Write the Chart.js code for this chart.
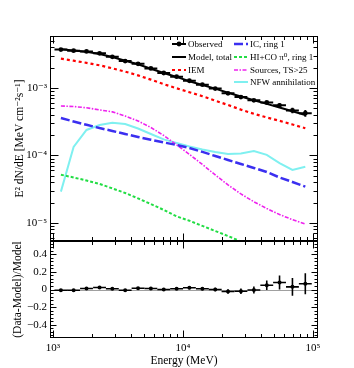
<!DOCTYPE html>
<html>
<head>
<meta charset="utf-8">
<script src="https://cdn.jsdelivr.net/npm/chart.js@4.4.0/dist/chart.umd.min.js"></script>
<style>
  html, body { margin:0; padding:0; background:#fff; }
  #wrap { position:relative; width:354px; height:368px; background:#fff; overflow:hidden; }
  #wrap canvas { position:absolute; left:0; }
  #top { top:0; }
  #bottom { top:236px; }
</style>
</head>
<body>
<div id="wrap">
  <canvas id="top" width="354" height="246"></canvas>
  <canvas id="bottom" width="354" height="132"></canvas>
</div>
<script>
/* ── DATA ── */
// bin centres (MeV), half width of a bin in decades
const ENERGY = [1150, 1440, 1810, 2280, 2860, 3590, 4510, 5660, 7110, 8930,
                11200, 14100, 17700, 22200, 27900, 35100, 44100, 55300, 69500, 87300];
const BIN_HALF_DEX = 0.0495;

const OBSERVED    = [3.71e-3, 3.57e-3, 3.48e-3, 3.27e-3, 2.90e-3, 2.51e-3, 2.28e-3, 1.95e-3, 1.67e-3, 1.47e-3,
                     1.28e-3, 1.12e-3, 9.8e-4, 8.33e-4, 7.33e-4, 6.56e-4, 6.10e-4, 5.54e-4, 4.66e-4, 4.24e-4];
const MODEL_TOTAL = [3.74e-3, 3.60e-3, 3.44e-3, 3.20e-3, 2.88e-3, 2.53e-3, 2.25e-3, 1.93e-3, 1.67e-3, 1.46e-3,
                     1.26e-3, 1.11e-3, 9.8e-4, 8.52e-4, 7.48e-4, 6.59e-4, 5.82e-4, 5.13e-4, 4.52e-4, 3.98e-4];
const IEM         = [2.72e-3, 2.54e-3, 2.36e-3, 2.17e-3, 1.96e-3, 1.75e-3, 1.54e-3, 1.33e-3, 1.14e-3, 9.9e-4,
                     8.67e-4, 7.56e-4, 6.5e-4, 5.6e-4, 4.78e-4, 4.15e-4, 3.66e-4, 3.27e-4, 2.88e-4, 2.53e-4];
const IC_RING1    = [3.59e-4, 3.19e-4, 2.85e-4, 2.55e-4, 2.31e-4, 2.08e-4, 1.88e-4, 1.71e-4, 1.56e-4, 1.43e-4,
                     1.29e-4, 1.13e-4, 9.83e-5, 8.58e-5, 7.48e-5, 6.53e-5, 5.70e-5, 4.72e-5, 4.05e-5, 3.45e-5];
const HICO_RING1  = [5.18e-5, 4.72e-5, 4.26e-5, 3.79e-5, 3.25e-5, 2.78e-5, 2.31e-5, 1.91e-5, 1.56e-5, 1.25e-5,
                     1.08e-5, 9.03e-6, 7.6e-6, 6.41e-6, 5.3e-6, 4.5e-6, null, null, null, null];
const SOURCES     = [5.41e-4, 5.32e-4, 5.09e-4, 4.74e-4, 4.43e-4, 3.85e-4, 3.25e-4, 2.60e-4, 1.98e-4, 1.44e-4,
                     1.04e-4, 7.36e-5, 5.15e-5, 3.66e-5, 2.69e-5, 2.06e-5, 1.64e-5, 1.33e-5, 1.12e-5, 9.6e-6];
const NFW         = [2.91e-5, 1.34e-4, 2.39e-4, 2.83e-4, 3.06e-4, 2.93e-4, 2.51e-4, 2.08e-4, 1.73e-4, 1.53e-4,
                     1.36e-4, 1.23e-4, 1.13e-4, 1.05e-4, 1.07e-4, 1.16e-4, 1.02e-4, 7.7e-5, 6.1e-5, 6.8e-5];

const RESIDUAL     = [-0.008, -0.008, 0.011, 0.023, 0.008, -0.008, 0.015, 0.011, 0.0, 0.008,
                      0.019, 0.008, 0.0, -0.022, -0.020, -0.005, 0.048, 0.079, 0.030, 0.065];
const RESIDUAL_ERR = [0.008, 0.008, 0.008, 0.009, 0.009, 0.010, 0.010, 0.011, 0.012, 0.013,
                      0.015, 0.017, 0.020, 0.025, 0.030, 0.040, 0.055, 0.080, 0.100, 0.120];

// axis ranges
const X_MIN = 948, X_MAX = 109300;
const Y_MIN = 5.4e-6, Y_MAX = 5.9e-3;
const R_MIN = -0.55, R_MAX = 0.55, R_MINOR = 0.04, R_MAJOR = 0.2;

const SERIF = '"Liberation Serif", "DejaVu Serif", serif';

/* ── HELPERS ── */
const pts = arr => ENERGY.map((e, i) => ({ x: e, y: arr[i] }));

const SUP = { '-':'\u207B', '0':'\u2070', '1':'\u00B9', '2':'\u00B2', '3':'\u00B3', '4':'\u2074',
              '5':'\u2075', '6':'\u2076', '7':'\u2077', '8':'\u2078', '9':'\u2079' };
function powLabel(v) {
  const e = Math.log10(v);
  if (Math.abs(e - Math.round(e)) > 1e-6) return '';
  return '10' + String(Math.round(e)).split('').map(c => SUP[c]).join('');
}

function logTicks(min, max) {
  const out = [];
  for (let e = Math.floor(Math.log10(min)); e <= Math.ceil(Math.log10(max)); e++) {
    for (let m = 1; m <= 9; m++) {
      const v = m * Math.pow(10, e);
      if (v >= min && v <= max) out.push({ v, major: m === 1 });
    }
  }
  return out;
}
function linTicks(min, max, step, majorStep) {
  const out = [];
  for (let k = Math.ceil(min / step - 1e-9); k * step <= max + 1e-9; k++) {
    const v = k * step;
    const r = v / majorStep;
    out.push({ v, major: Math.abs(r - Math.round(r)) < 1e-6 });
  }
  return out;
}

// fixed axis box, no extra room for half labels
const fixBox = (w, h) => s => {
  if (w != null) s.width = w;
  if (h != null) s.height = h;
  s.paddingTop = s.paddingBottom = s.paddingLeft = s.paddingRight = 0;
};

/* ── PLUGINS ── */
// ROOT style frame with inward ticks on all four sides
const framePlugin = {
  id: 'frame',
  afterDraw(chart, args, o) {
    const { ctx, chartArea: a, scales } = chart;
    const L = Math.round(a.left) + 0.5, R = Math.round(a.right) - 0.5;
    const T = Math.round(a.top) + 0.5, B = Math.round(a.bottom) - 0.5;
    ctx.save();
    ctx.strokeStyle = '#000';
    ctx.lineWidth = 1;
    ctx.beginPath();
    logTicks(scales.x.min, scales.x.max).forEach(t => {
      const px = Math.round(scales.x.getPixelForValue(t.v)) + 0.5;
      const len = t.major ? o.xMajor : o.xMinor;
      ctx.moveTo(px, B); ctx.lineTo(px, B - len);
      ctx.moveTo(px, T); ctx.lineTo(px, T + len);
    });
    const ys = scales.y;
    const yt = ys.type === 'logarithmic' ? logTicks(ys.min, ys.max) : linTicks(ys.min, ys.max, R_MINOR, R_MAJOR);
    yt.forEach(t => {
      const py = Math.round(ys.getPixelForValue(t.v)) + 0.5;
      const len = t.major ? o.yMajor : o.yMinor;
      ctx.moveTo(L, py); ctx.lineTo(L + len, py);
      ctx.moveTo(R, py); ctx.lineTo(R - len, py);
    });
    ctx.stroke();
    ctx.strokeRect(L, T, R - L, B - T);
    ctx.restore();
  }
};

// grey line at zero in the ratio panel
const zeroLinePlugin = {
  id: 'zeroLine',
  beforeDatasetsDraw(chart) {
    const { ctx, chartArea: a, scales: { y } } = chart;
    const py = Math.round(y.getPixelForValue(0)) + 0.5;
    ctx.save();
    ctx.strokeStyle = '#a0a0a0';
    ctx.lineWidth = 1;
    ctx.beginPath();
    ctx.moveTo(a.left, py); ctx.lineTo(a.right, py);
    ctx.stroke();
    ctx.restore();
  }
};

// horizontal (bin width) and vertical error bars
const errorBarPlugin = {
  id: 'errorBars',
  afterDatasetsDraw(chart) {
    const { ctx, chartArea: a, scales: { x, y } } = chart;
    chart.data.datasets.forEach(ds => {
      if (!ds.errorBars) return;
      ctx.save();
      ctx.beginPath();
      ctx.rect(a.left, a.top, a.width, a.height);
      ctx.clip();
      ctx.strokeStyle = ds.borderColor;
      ctx.lineWidth = ds.errorBars.width;
      ds.data.forEach((p, i) => {
        const err = ds.errorBars.y[i];
        const px = x.getPixelForValue(p.x), py = y.getPixelForValue(p.y);
        ctx.beginPath();
        ctx.moveTo(x.getPixelForValue(p.x * Math.pow(10, -BIN_HALF_DEX)), py);
        ctx.lineTo(x.getPixelForValue(p.x * Math.pow(10, BIN_HALF_DEX)), py);
        ctx.moveTo(px, y.getPixelForValue(p.y - err));
        ctx.lineTo(px, y.getPixelForValue(p.y + err));
        ctx.stroke();
      });
      ctx.restore();
    });
  }
};

// two column legend, column-major like the original
const legendPlugin = {
  id: 'panelLegend',
  afterDraw(chart, args, o) {
    const { ctx } = chart;
    ctx.save();
    ctx.font = '9px ' + SERIF;
    ctx.textBaseline = 'middle';
    chart.data.datasets.forEach((ds, i) => {
      const col = i < o.perCol ? 0 : 1;
      const row = i < o.perCol ? i : i - o.perCol;
      const x = o.colX[col], y = o.rowY[row];
      ctx.strokeStyle = ds.borderColor;
      ctx.lineWidth = ds.errorBars ? ds.errorBars.width : ds.borderWidth;
      ctx.setLineDash(ds.errorBars ? [] : (ds.borderDash || []));
      ctx.beginPath();
      ctx.moveTo(x, y); ctx.lineTo(x + o.symW, y);
      ctx.stroke();
      ctx.setLineDash([]);
      if (ds.pointRadius > 0) {
        ctx.fillStyle = ds.pointBackgroundColor;
        ctx.beginPath();
        ctx.arc(x + o.symW / 2, y, ds.pointRadius, 0, Math.PI * 2);
        ctx.fill();
      }
      ctx.fillStyle = '#000';
      ctx.fillText(ds.label, x + o.symW + 2, y + 0.5);
    });
    ctx.restore();
  }
};

/* ── SHARED SCALE PIECES ── */
const tickFont = { family: SERIF, size: 11 };
const titleFont = { family: SERIF, size: 11.5 };
const hidden = { grid: { display: false, drawTicks: false }, border: { display: false } };

/* ── UPPER PANEL ── */
new Chart(document.getElementById('top'), {
  type: 'line',
  data: {
    datasets: [
      { label: 'Observed', data: pts(OBSERVED), showLine: false, borderColor: '#000',
        pointRadius: 2.4, pointBackgroundColor: '#000', pointBorderWidth: 0,
        errorBars: { y: MODEL_TOTAL.map((m, i) => m * RESIDUAL_ERR[i]), width: 2 } },
      { label: 'Model, total', data: pts(MODEL_TOTAL), borderColor: '#000', borderWidth: 2, pointRadius: 0 },
      { label: 'IEM', data: pts(IEM), borderColor: '#ff0000', borderWidth: 2.2, borderDash: [3, 3], pointRadius: 0 },
      { label: 'IC, ring 1', data: pts(IC_RING1), borderColor: '#3b2ff0', borderWidth: 2.5, borderDash: [9, 3], pointRadius: 0 },
      { label: 'HI+CO \u03C0\u2070, ring 1', data: pts(HICO_RING1), borderColor: '#22dd44', borderWidth: 2, borderDash: [3, 2], pointRadius: 0 },
      { label: 'Sources, TS>25', data: pts(SOURCES), borderColor: '#ee22ee', borderWidth: 1.6, borderDash: [4, 1.5, 1.5, 1.5], pointRadius: 0 },
      { label: 'NFW annihilation', data: pts(NFW), borderColor: '#7ff0f0', borderWidth: 2, pointRadius: 0 }
    ]
  },
  options: {
    responsive: false,
    animation: false,
    layout: { padding: { top: 36, right: 36, bottom: 5, left: 0 } },
    plugins: {
      legend: { display: false },
      tooltip: { enabled: false },
      frame: { xMajor: 7, xMinor: 3.5, yMajor: 8, yMinor: 4 },
      panelLegend: { perCol: 3, colX: [172, 234], rowY: [44, 57, 70, 82], symW: 14 }
    },
    scales: {
      x: { type: 'logarithmic', min: X_MIN, max: X_MAX, display: false },
      y: {
        type: 'logarithmic', min: Y_MIN, max: Y_MAX, ...hidden,
        ticks: { autoSkip: false, padding: 3, color: '#000', font: tickFont, callback: v => powLabel(v) },
        title: { display: true, text: 'E\u00B2 dN/dE [MeV cm\u207B\u00B2s\u207B\u00B9]', color: '#000',
                 font: titleFont, padding: { top: 13, bottom: 0 } },
        afterFit: fixBox(50, null)
      }
    }
  },
  plugins: [framePlugin, errorBarPlugin, legendPlugin]
});

/* ── RATIO PANEL ── */
new Chart(document.getElementById('bottom'), {
  type: 'line',
  data: {
    datasets: [
      { label: '(Data-Model)/Model', data: pts(RESIDUAL), showLine: false, borderColor: '#000',
        pointRadius: 2, pointBackgroundColor: '#000', pointBorderWidth: 0,
        errorBars: { y: RESIDUAL_ERR, width: 1.6 } }
    ]
  },
  options: {
    responsive: false,
    animation: false,
    layout: { padding: { top: 5, right: 36, bottom: 0, left: 0 } },
    plugins: {
      legend: { display: false },
      tooltip: { enabled: false },
      frame: { xMajor: 7, xMinor: 3.5, yMajor: 6, yMinor: 3 }
    },
    scales: {
      x: {
        type: 'logarithmic', min: X_MIN, max: X_MAX, ...hidden,
        ticks: { autoSkip: false, maxRotation: 0, padding: 4, color: '#000', font: tickFont, callback: v => powLabel(v) },
        title: { display: true, text: 'Energy (MeV)', color: '#000', font: titleFont, padding: { top: 0, bottom: 0 } },
        afterFit: fixBox(null, 30)
      },
      y: {
        type: 'linear', min: R_MIN, max: R_MAX, ...hidden,
        ticks: {
          autoSkip: false, stepSize: R_MAJOR, padding: 3, color: '#000', font: tickFont,
          callback: v => {
            const r = Math.round(v * 10) / 10;
            if (Math.abs(v - r) > 1e-6 || Math.abs(r / R_MAJOR - Math.round(r / R_MAJOR)) > 1e-6) return '';
            return r === 0 ? '0' : (r < 0 ? '\u2212' : '') + Math.abs(r).toFixed(1);
          }
        },
        title: { display: true, text: '(Data-Model)/Model', color: '#000', font: titleFont, padding: { top: 11, bottom: 0 } },
        afterFit: fixBox(50, null)
      }
    }
  },
  plugins: [framePlugin, zeroLinePlugin, errorBarPlugin]
});
</script>
</body>
</html>
